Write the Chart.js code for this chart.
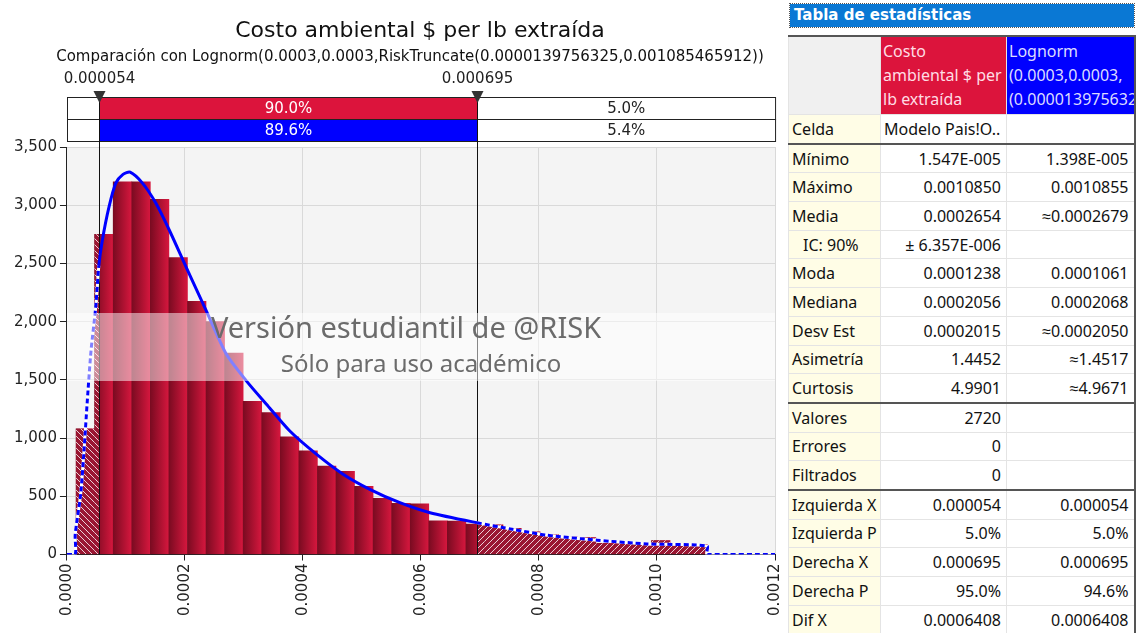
<!DOCTYPE html>
<html>
<head>
<meta charset="utf-8">
<script src="https://cdn.jsdelivr.net/npm/chart.js@4/dist/chart.umd.min.js"></script>
<style>
  body { margin: 0; width: 1137px; height: 633px; position: relative; background: #fff; overflow: hidden; }
  #chartBox { position: absolute; left: 0; top: 0; width: 796px; height: 633px; }
  #stats { position: absolute; left: 786px; top: 0; width: 351px; height: 633px; background: #fff; font-family: "Noto Sans", sans-serif; font-size: 16px; color: #111; }
  #stats .cap { position: absolute; left: 4px; top: 4px; width: 344px; height: 23px; box-sizing: border-box; background: #0a78d4; color: #fff;
    font-family: "DejaVu Sans", sans-serif; font-weight: bold; font-size: 15px; line-height: 22px; padding-left: 4px; outline: 1px dotted #555; }
  #stats table { position: absolute; left: 2px; top: 35px; width: 346px; border-collapse: collapse; table-layout: fixed;
    border-top: 2px solid #555; border-right: 2px solid #555; border-left: 1px solid #aaa; }
  #stats td { border: 1px solid #e4e4e4; height: 27.7px; padding: 0 5px; white-space: nowrap; overflow: hidden; line-height: 20px; }
  #stats td.l { background: #fffde6; text-align: left; padding-left: 3px; }
  #stats td.v { text-align: right; background: #fff; }
  #stats td.ind { padding-left: 14px; }
  #stats tr.sep td { border-bottom: 2px solid #555; }
  #stats tr.head td { height: 75px; vertical-align: top; line-height: 24px; padding: 2px 2px 0 2px; white-space: nowrap; }
  #stats td.h0 { background: #f0f0f0; }
  #stats td.h1 { background: #dc143c; color: #ffdde4; }
  #stats td.h2 { background: #0000ff; color: #dcdcff; }
</style>
</head>
<body>
<div id="chartBox"><canvas id="histChart" width="796" height="633"></canvas></div>
<div id="stats">
  <div class="cap">Tabla de estadísticas</div>
  <table id="statTable"></table>
</div>
<script>
// histograma (densidad) de la simulación
const binStart = 0.00001547;
const binWidth = 0.00003146;
const binDensity = [1080, 2750, 3200, 3200, 3050, 2550, 2175, 2000, 1730, 1315,
  1220, 1010, 890, 760, 715, 585, 483, 440, 436, 290,
  287, 262, 255, 225, 195, 170, 150, 145, 95, 100,
  85, 120, 90, 85];

// curva Lognorm ajustada
const curveX = [0, 0.0000140, 0.0000140, 0.0000233, 0.0000289, 0.0000345, 0.0000408, 0.0000488, 0.000054,
  0.0000600, 0.0000714, 0.0000828, 0.0000950, 0.0001071, 0.0001280, 0.0001508, 0.0001734, 0.0002018, 0.0002358,
  0.0002697, 0.0003037, 0.0003377, 0.0003773, 0.0004227, 0.0004679, 0.0005133, 0.0005643, 0.0006153,
  0.000695, 0.0007569, 0.0008137, 0.0008986, 0.0009836, 0.001085, 0.001085, 0.0012];
const curveY = [0, 0, 170, 519, 890, 1320, 1750, 2126, 2480,
  2700, 2988, 3190, 3265, 3284, 3190, 3017, 2787, 2471, 2097,
  1724, 1494, 1293, 1063, 862, 690, 560, 445, 359,
  273, 215, 166, 123, 91, 72, 0, 0];

// delimitadores
const leftX = 0.000054;
const rightX = 0.000695;
const leftLabel = "0.000054";
const rightLabel = "0.000695";
const simBand = ["", "90.0%", "5.0%"];
const fitBand = ["", "89.6%", "5.4%"];

const yTicks = [0, 500, 1000, 1500, 2000, 2500, 3000, 3500];
const xTickStep = 0.0002;

const titleText = "Costo ambiental $ per lb extraída";
const subtitleText = "Comparación con Lognorm(0.0003,0.0003,RiskTruncate(0.0000139756325,0.001085465912))";
const watermark = ["Versión estudiantil de @RISK", "Sólo para uso académico"];

// tabla de estadísticas
const statLabels = ["Mínimo", "Máximo", "Media", "IC: 90%", "Moda", "Mediana", "Desv Est", "Asimetría", "Curtosis",
  "Valores", "Errores", "Filtrados", "Izquierda X", "Izquierda P", "Derecha X", "Derecha P", "Dif X"];
const simStats = ["1.547E-005", "0.0010850", "0.0002654", "± 6.357E-006", "0.0001238", "0.0002056", "0.0002015", "1.4452", "4.9901",
  "2720", "0", "0", "0.000054", "5.0%", "0.000695", "95.0%", "0.0006408"];
const fitStats = ["1.398E-005", "0.0010855", "≈0.0002679", "", "0.0001061", "0.0002068", "≈0.0002050", "≈1.4517", "≈4.9671",
  "", "", "", "0.000054", "5.0%", "0.000695", "94.6%", "0.0006408"];
const sepAfter = [8, 11];

function buildTable() {
  const t = document.getElementById("statTable");
  let html = '<colgroup><col style="width:92px"><col style="width:126px"><col style="width:128px"></colgroup>';
  html += '<tr class="head"><td class="h0"></td><td class="h1">Costo<br>ambiental $ per<br>lb extraída</td>' +
    '<td class="h2">Lognorm<br>(0.0003,0.0003,<br>(0.0000139756325,0.001085465912))</td></tr>';
  html += '<tr class="sep"><td class="l">Celda</td><td style="padding-left:3px">Modelo Pais!O..</td><td></td></tr>';
  statLabels.forEach((lab, i) => {
    const cls = sepAfter.includes(i) ? ' class="sep"' : "";
    const ind = lab.startsWith("IC") ? " ind" : "";
    html += `<tr${cls}><td class="l${ind}">${lab}</td><td class="v">${simStats[i]}</td><td class="v">${fitStats[i]}</td></tr>`;
  });
  t.innerHTML = html;
}
buildTable();

const inTail = (x) => x <= leftX + 1e-9 || x >= rightX - 1e-9;

const bars = binDensity.map((d, i) => ({ x: binStart + (i + 0.5) * binWidth, y: d }));
const curvePts = curveX.map((x, i) => ({ x, y: curveY[i] }));
const tailPts = curveX.map((x, i) => ({ x, y: inTail(x) ? curveY[i] : null }));

function makeHatch(ctx, dir) {
  const c = document.createElement("canvas");
  c.width = c.height = 6;
  const g = c.getContext("2d");
  g.fillStyle = "#9a1632";
  g.fillRect(0, 0, 6, 6);
  g.strokeStyle = "rgba(255,255,255,0.8)";
  g.lineWidth = 1;
  g.beginPath();
  if (dir === "/") {
    g.moveTo(0, 6); g.lineTo(6, 0);
    g.moveTo(-1, 1); g.lineTo(1, -1);
    g.moveTo(5, 7); g.lineTo(7, 5);
  } else {
    g.moveTo(0, 0); g.lineTo(6, 6);
    g.moveTo(5, -1); g.lineTo(7, 1);
    g.moveTo(-1, 5); g.lineTo(1, 7);
  }
  g.stroke();
  return ctx.createPattern(c, "repeat");
}

const plotBg = {
  id: "plotBg",
  beforeDraw(chart) {
    const { ctx, chartArea: a } = chart;
    ctx.save();
    ctx.fillStyle = "#f4f4f4";
    ctx.fillRect(a.left, a.top, a.right - a.left, a.bottom - a.top);
    ctx.fillStyle = "#111";
    ctx.textAlign = "center";
    ctx.textBaseline = "middle";
    ctx.font = '22px "DejaVu Sans"';
    ctx.fillText(titleText, 420, 31);
    ctx.font = '15px "DejaVu Sans"';
    ctx.fillText(subtitleText, 410, 57);
    ctx.restore();
  },
};

const tailHatch = {
  id: "tailHatch",
  afterDatasetDraw(chart, args) {
    if (args.index !== 0) return;
    const { ctx, chartArea: a, scales: { x } } = chart;
    const xl = x.getPixelForValue(leftX);
    const xr = x.getPixelForValue(rightX);
    const meta = chart.getDatasetMeta(0);
    const regions = [[a.left, xl, makeHatch(ctx, "\\")], [xr, a.right, makeHatch(ctx, "/")]];
    regions.forEach(([x0, x1, pat]) => {
      ctx.save();
      ctx.beginPath();
      ctx.rect(x0, a.top, x1 - x0, a.bottom - a.top);
      ctx.clip();
      ctx.fillStyle = pat;
      meta.data.forEach((el) => {
        const p = el.getProps(["x", "y", "base", "width"], true);
        ctx.fillRect(p.x - p.width / 2, p.y, p.width, p.base - p.y);
      });
      ctx.restore();
    });
    ctx.save();
    ctx.strokeStyle = "#111";
    ctx.lineWidth = 1;
    ctx.beginPath();
    [xl, xr].forEach((px) => {
      ctx.moveTo(Math.round(px) + 0.5, a.top);
      ctx.lineTo(Math.round(px) + 0.5, a.bottom);
    });
    ctx.stroke();
    ctx.restore();
  },
};

const delimiters = {
  id: "delimiters",
  afterDraw(chart) {
    const { ctx, chartArea: a, scales: { x } } = chart;
    const xl = Math.round(x.getPixelForValue(leftX)) + 0.5;
    const xr = Math.round(x.getPixelForValue(rightX)) + 0.5;
    const rowTop = 97, rowH = 22;
    ctx.save();
    [[simBand, "#dc143c"], [fitBand, "#0000ff"]].forEach(([vals, col], r) => {
      const y0 = rowTop + r * rowH;
      ctx.fillStyle = "#fff";
      ctx.fillRect(a.left, y0, a.right - a.left, rowH);
      ctx.fillStyle = col;
      ctx.fillRect(xl, y0, xr - xl, rowH);
      ctx.strokeStyle = "#222";
      ctx.lineWidth = 1;
      ctx.strokeRect(Math.round(a.left) + 0.5, y0 + 0.5, a.right - a.left, rowH);
      ctx.font = '15px "DejaVu Sans"';
      ctx.textAlign = "center";
      ctx.textBaseline = "middle";
      ctx.fillStyle = "#fff";
      ctx.fillText(vals[1], (xl + xr) / 2, y0 + rowH / 2 + 1);
      ctx.fillStyle = "#222";
      ctx.fillText(vals[2], (xr + a.right) / 2, y0 + rowH / 2 + 1);
    });
    ctx.strokeStyle = "#111";
    ctx.beginPath();
    [xl, xr].forEach((px) => {
      ctx.moveTo(px, rowTop);
      ctx.lineTo(px, a.top);
    });
    ctx.stroke();
    ctx.fillStyle = "#333";
    [[xl, leftLabel], [xr, rightLabel]].forEach(([px, lab]) => {
      ctx.beginPath();
      ctx.moveTo(px - 6, 91);
      ctx.lineTo(px + 6, 91);
      ctx.lineTo(px, 103);
      ctx.closePath();
      ctx.fill();
    });
    ctx.fillStyle = "#222";
    ctx.font = '15px "DejaVu Sans"';
    ctx.textAlign = "center";
    ctx.textBaseline = "middle";
    ctx.fillText(leftLabel, xl, 79);
    ctx.fillText(rightLabel, xr, 79);

    // marca de agua
    ctx.fillStyle = "rgba(255,255,255,0.5)";
    ctx.fillRect(a.left, 313, a.right - a.left, 68);
    ctx.fillStyle = "#6b6b6b";
    ctx.font = '29px "Noto Sans"';
    ctx.fillText(watermark[0], 406, 330);
    ctx.font = '24px "Noto Sans"';
    ctx.fillText(watermark[1], 421, 365);
    ctx.restore();
  },
};

new Chart(document.getElementById("histChart"), {
  data: {
    datasets: [
      {
        type: "bar",
        data: bars,
        order: 3,
        barPercentage: 1,
        categoryPercentage: 1,
        grouped: false,
        borderWidth: 0,
        backgroundColor: (c) => {
          const xs = c.chart.scales.x;
          if (c.dataIndex === undefined || !xs) return "#b0142f";
          const l = xs.getPixelForValue(binStart + c.dataIndex * binWidth);
          const r = xs.getPixelForValue(binStart + (c.dataIndex + 1) * binWidth);
          if (!isFinite(l) || !isFinite(r) || r <= l) return "#b0142f";
          const g = c.chart.ctx.createLinearGradient(l, 0, r, 0);
          g.addColorStop(0, "#7a0b21");
          g.addColorStop(1, "#d6173e");
          return g;
        },
      },
      {
        type: "line",
        data: tailPts,
        order: 2,
        borderColor: "#ffffff",
        borderWidth: 3,
        pointRadius: 0,
        tension: 0.25,
        spanGaps: false,
      },
      {
        type: "line",
        data: curvePts,
        order: 1,
        borderColor: "#0000ff",
        borderWidth: 3,
        pointRadius: 0,
        tension: 0.25,
        segment: {
          borderDash: (s) => (s.p1.parsed.x <= leftX + 1e-9 || s.p0.parsed.x >= rightX - 1e-9 ? [5, 3] : undefined),
        },
      },
    ],
  },
  options: {
    responsive: false,
    animation: false,
    devicePixelRatio: 1,
    layout: { padding: { left: 11, right: 0, top: 147, bottom: 14 } },
    plugins: {
      legend: { display: false },
      tooltip: { enabled: false },
    },
    scales: {
      x: {
        type: "linear",
        min: 0,
        max: 0.0012,
        offset: false,
        border: { color: "#222" },
        grid: { color: "#d9d9d9", tickColor: "#222", tickLength: 6, offset: false },
        ticks: {
          stepSize: xTickStep,
          minRotation: 90,
          maxRotation: 90,
          padding: 3,
          color: "#222",
          font: { family: "DejaVu Sans", size: 15 },
          callback: (v) => v.toFixed(4),
        },
      },
      y: {
        min: yTicks[0],
        max: yTicks[yTicks.length - 1],
        border: { color: "#222" },
        grid: { color: "#d9d9d9", tickColor: "#222", tickLength: 7 },
        ticks: {
          stepSize: 500,
          padding: 3,
          color: "#222",
          font: { family: "DejaVu Sans", size: 15 },
        },
      },
    },
  },
  plugins: [plotBg, tailHatch, delimiters],
});
</script>
</body>
</html>
